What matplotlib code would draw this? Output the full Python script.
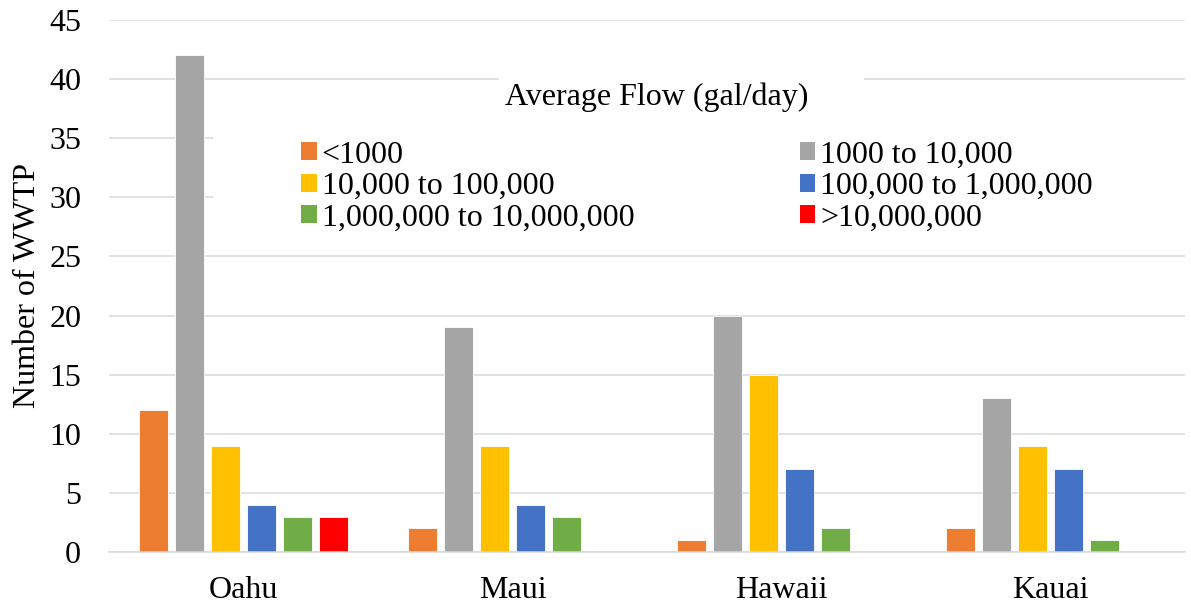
import matplotlib
matplotlib.use('Agg')
import matplotlib.pyplot as plt
from matplotlib.patches import Patch, Rectangle
import numpy as np

plt.rcParams['font.family'] = ['Liberation Serif', 'DejaVu Serif']

islands = ['Oahu', 'Maui', 'Hawaii', 'Kauai']
flow_classes = ['<1000', '1000 to 10,000', '10,000 to 100,000',
                '100,000 to 1,000,000', '1,000,000 to 10,000,000', '>10,000,000']
colors = ['#ED7D31', '#A5A5A5', '#FFC000', '#4472C4', '#70AD47', '#FF0000']

# number of plants per flow class, one list per island
oahu = [12, 42, 9, 4, 3, 3]
maui = [2, 19, 9, 4, 3, 0]
hawaii = [1, 20, 15, 7, 2, 0]
kauai = [2, 13, 9, 7, 1, 0]

counts = np.array([oahu, maui, hawaii, kauai])
fs = 23

fig = plt.figure(figsize=(11.91, 6.08), dpi=100)
ax = fig.add_axes([109 / 1191, 56 / 608, 1076 / 1191, 532 / 608])

x = np.arange(len(islands))
slot = 0.1338
width = 0.106
for i, (label, color) in enumerate(zip(flow_classes, colors)):
    ax.bar(x + (i - 2.5) * slot, counts[:, i], width=width, color=color,
           edgecolor='white', linewidth=0.6, label=label, zorder=1)

ax.set_xlim(-0.5, 3.5)
ax.set_ylim(0, 45)
ax.set_yticks(np.arange(0, 46, 5))
ax.set_xticks(x)
ax.set_xticklabels(islands)

ax.set_axisbelow(True)
ax.yaxis.grid(True, color='#d9d9d9', linewidth=1.1)
ax.xaxis.grid(False)
for side in ['top', 'right', 'left']:
    ax.spines[side].set_visible(False)
ax.spines['bottom'].set_color('#d9d9d9')
ax.spines['bottom'].set_linewidth(1.1)
ax.tick_params(axis='both', length=0, labelsize=fs, colors='black')
ax.tick_params(axis='y', pad=20)
ax.tick_params(axis='x', pad=17)

ax.set_ylabel('Number of WWTP', fontsize=fs, labelpad=5)

# white backgrounds behind the legend title and entries
ax.add_patch(Rectangle((0.3625, 0.803), 0.339, 0.118, transform=ax.transAxes,
                       facecolor='white', edgecolor='none', zorder=0.8))
ax.add_patch(Rectangle((0.0967, 0.568), 0.91, 0.248, transform=ax.transAxes,
                       facecolor='white', edgecolor='none', zorder=0.8,
                       clip_on=False))

ax.text(0.509, 0.855, 'Average Flow (gal/day)', transform=ax.transAxes,
        ha='center', va='center', fontsize=fs, zorder=3)

order = [0, 2, 4, 1, 3, 5]
handles = [Patch(facecolor=colors[k], edgecolor='none') for k in order]
labels = [flow_classes[k] for k in order]
ax.legend(handles, labels, ncol=2, loc='upper left',
          bbox_to_anchor=(0.1784, 0.7734), frameon=False, fontsize=fs,
          borderpad=0, borderaxespad=0, handlelength=0.5, handleheight=0.5,
          handletextpad=0.15, labelspacing=0.08, columnspacing=5.17)

fig.savefig('out.png', dpi=100)
plt.close(fig)
